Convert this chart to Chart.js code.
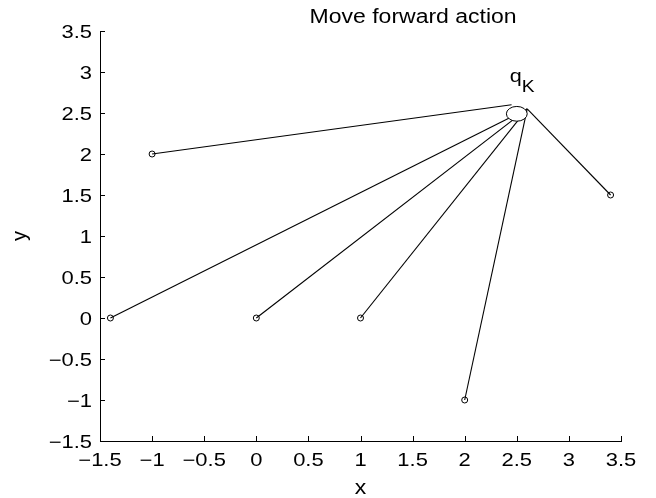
<!DOCTYPE html>
<html>
<head>
<meta charset="utf-8">
<script src="https://cdn.jsdelivr.net/npm/chart.js@4/dist/chart.umd.min.js"></script>
<style>
  html, body { margin: 0; padding: 0; background: #fff; }
  #wrap { width: 656px; height: 498px; }
</style>
</head>
<body>
<div id="wrap"><canvas id="c"></canvas></div>
<script>
'use strict';
// start points (open circles) and where each line meets q_K
const startX = [-1, -1.4, 0, 1, 2, 3.4];
const startY = [2, 0, 0, 0, -1, 1.5];
const endX = [2.45, 2.6, 2.6, 2.6, 2.6, 2.6];
const endY = [2.6, 2.55, 2.55, 2.55, 2.55, 2.55];
// q_K ellipse (data units)
const qCenter = [2.5, 2.49];
const qRadius = [0.1, 0.09];
const xTicks = [-1.5, -1, -0.5, 0, 0.5, 1, 1.5, 2, 2.5, 3, 3.5];
const yTicks = [-1.5, -1, -0.5, 0, 0.5, 1, 1.5, 2, 2.5, 3, 3.5];
const titleText = 'Move forward action';
const xLabel = 'x';
const yLabel = 'y';

const FONT = 'Liberation Sans, Arial, Helvetica, sans-serif';

const datasets = startX.map((x, i) => ({
  data: [{ x: x, y: startY[i] }, { x: endX[i], y: endY[i] }],
  borderColor: '#000',
  borderWidth: 1.1,
  showLine: true,
  pointRadius: [3, 0],
  pointBorderWidth: 1,
  pointBorderColor: '#000',
  pointBackgroundColor: 'rgba(255,255,255,0)',
  pointHoverRadius: 0
}));

const fmt = v => (v < 0 ? '\u2212' + String(-v) : String(v));

// the text in the picture is a bit wider than the font, so stretch it
function wideText(ctx, text, x, y, align, size, sx) {
  ctx.save();
  ctx.translate(x, y);
  ctx.scale(sx, 1);
  ctx.font = size + 'px ' + FONT;
  ctx.textAlign = align;
  ctx.textBaseline = 'alphabetic';
  ctx.fillText(text, 0, 0);
  ctx.restore();
}

// ellipse, labels, inward ticks, title
const extras = {
  id: 'extras',
  afterDatasetsDraw(chart) {
    const { ctx, chartArea: a, scales: { x, y } } = chart;
    ctx.save();
    ctx.strokeStyle = '#000';
    ctx.lineWidth = 1;

    // inward ticks
    ctx.beginPath();
    xTicks.forEach(v => {
      const px = Math.round(x.getPixelForValue(v)) + 0.5;
      ctx.moveTo(px, a.bottom); ctx.lineTo(px, a.bottom - 5);
    });
    yTicks.forEach(v => {
      const py = Math.round(y.getPixelForValue(v)) + 0.5;
      ctx.moveTo(a.left, py); ctx.lineTo(a.left + 5, py);
    });
    ctx.stroke();

    // ellipse
    const cx = x.getPixelForValue(qCenter[0]);
    const cy = y.getPixelForValue(qCenter[1]);
    const rx = Math.abs(x.getPixelForValue(qCenter[0] + qRadius[0]) - cx);
    const ry = Math.abs(y.getPixelForValue(qCenter[1] + qRadius[1]) - cy);
    ctx.beginPath();
    ctx.ellipse(cx, cy, rx, ry, 0, 0, Math.PI * 2);
    ctx.fillStyle = '#fff';
    ctx.fill();
    ctx.stroke();

    ctx.fillStyle = '#000';

    // tick labels
    xTicks.forEach(v => wideText(ctx, fmt(v), x.getPixelForValue(v), a.bottom + 25, 'center', 18, 1.22));
    yTicks.forEach(v => wideText(ctx, fmt(v), a.left - 8, y.getPixelForValue(v) + 7, 'right', 18, 1.22));

    // axis titles
    wideText(ctx, xLabel, (a.left + a.right) / 2, 494, 'center', 20, 1.15);
    ctx.save();
    ctx.translate(26, (a.top + a.bottom) / 2);
    ctx.rotate(-Math.PI / 2);
    ctx.font = '20px ' + FONT;
    ctx.textAlign = 'center';
    ctx.textBaseline = 'alphabetic';
    ctx.fillText(yLabel, 0, 0);
    ctx.restore();

    // q_K label
    wideText(ctx, 'q', cx - 7, cy - 32, 'left', 18, 1.2);
    wideText(ctx, 'K', cx + 5, cy - 22, 'left', 16, 1.2);

    // title
    wideText(ctx, titleText, a.left + (a.right - a.left) * 0.601, 23, 'center', 20, 1.15);
    ctx.restore();
  }
};

new Chart(document.getElementById('c'), {
  type: 'scatter',
  data: { datasets },
  options: {
    responsive: true,
    maintainAspectRatio: false,
    animation: false,
    events: [],
    layout: { padding: { left: 0, right: 35, top: 31, bottom: 0 } },
    plugins: { legend: { display: false }, tooltip: { enabled: false }, title: { display: false } },
    scales: {
      x: {
        type: 'linear', min: -1.5, max: 3.5,
        afterBuildTicks: s => { s.ticks = xTicks.map(v => ({ value: v })); },
        afterFit: s => { s.height = 57; },
        grid: { drawOnChartArea: false, drawTicks: false },
        border: { display: true, color: '#000', width: 1 },
        ticks: { display: false }
      },
      y: {
        type: 'linear', min: -1.5, max: 3.5,
        afterBuildTicks: s => { s.ticks = yTicks.map(v => ({ value: v })); },
        afterFit: s => { s.width = 100; },
        grid: { drawOnChartArea: false, drawTicks: false },
        border: { display: true, color: '#000', width: 1 },
        ticks: { display: false }
      }
    }
  },
  plugins: [extras]
});
</script>
</body>
</html>
